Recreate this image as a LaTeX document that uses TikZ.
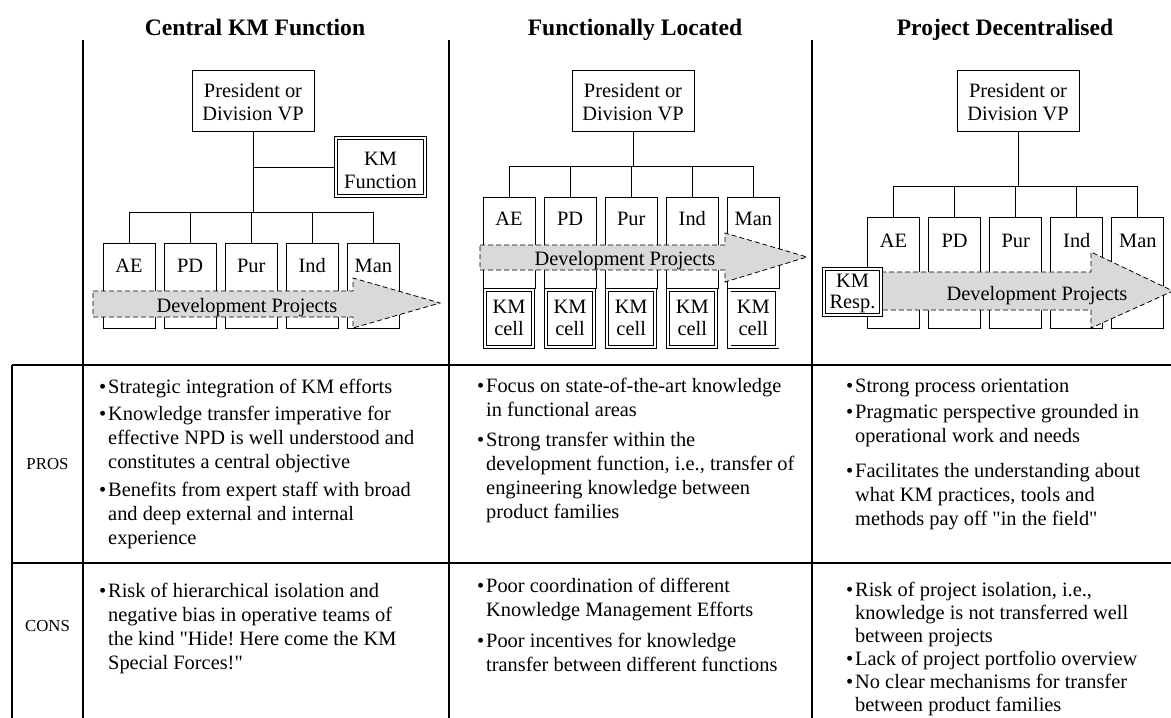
\documentclass[tikz,border=0pt]{standalone}
\usepackage{fontspec}
\setmainfont{Liberation Serif}[Ligatures=TeXOff]
\frenchspacing
% two centred lines whose baseline is the first line's baseline
\newcommand{\tworows}[2]{\parbox[t]{140pt}{\centering #1\\#2}}
% one bullet point with a hanging indent
\newcommand{\bul}[1]{\parbox[t]{360pt}{\hangindent=9pt\hangafter=1\noindent\makebox[9pt][l]{\textbullet}#1}}
\begin{document}
\begin{tikzpicture}[x=1pt,y=-1pt,
  rule/.style={line width=1.2pt},
  link/.style={line width=1pt},
  presbox/.style={draw,line width=1pt,fill=white,minimum width=122pt,minimum height=61pt,inner sep=0pt},
  funcbox/.style={draw,line width=1pt,minimum width=52pt,inner sep=0pt},
  dblbox/.style={draw,line width=0.9pt,double,double distance=2.2pt,fill=white,inner sep=0pt,outer sep=2pt},
  devarrow/.style={draw,line width=0.8pt,dash pattern=on 5pt off 3pt,fill=gray!30},
  txt/.style={inner sep=0pt,anchor=base,font=\fontsize{20.4}{23.6}\selectfont},
  celltxt/.style={inner sep=0pt,anchor=base,font=\fontsize{20.4}{21.8}\selectfont},
  head/.style={inner sep=0pt,anchor=base,font=\fontsize{23.6}{28}\selectfont\bfseries},
  rowlabel/.style={inner sep=0pt,anchor=base,font=\fontsize{16.8}{20}\selectfont},
  item/.style={inner sep=0pt,anchor=base west,font=\fontsize{20.4}{24}\selectfont},
  tightitem/.style={item,font=\fontsize{20.4}{23}\selectfont}
]
\useasboundingbox (0,0) rectangle (1171,718);

% ---------- headings ----------
\node[head] (h1) at (255,35) {Central KM Function};
\node[head] (h2) at (635,35) {Functionally Located};
\node[head] (h3) at (1005,35) {Project Decentralised};

% ---------- table rules ----------
\coordinate (v1t) at (83,40);   \coordinate (v1b) at (83,718);
\coordinate (v2t) at (449,40);  \coordinate (v2b) at (449,718);
\coordinate (v3t) at (812,40);  \coordinate (v3b) at (812,718);
\coordinate (r1l) at (12,365);  \coordinate (r1r) at (1171,365);
\coordinate (r2l) at (12,563);  \coordinate (r2r) at (1171,563);
\coordinate (lb) at (12,718);
\draw[rule] (v1t) -- (v1b);
\draw[rule] (v2t) -- (v2b);
\draw[rule] (v3t) -- (v3b);
\draw[rule] (r1l) -- (r1r);
\draw[rule] (r2l) -- (r2r);
\draw[rule] (r1l) -- (lb);

% ================= Central KM Function =================
\node[presbox] (c1p) at (253,100.5) {};
\node[txt] (c1pt) at (253,97) {\tworows{President or}{Division VP}};
\node[dblbox,minimum width=89pt,minimum height=58pt] (c1km) at (380.5,167) {};
\node[txt] (c1kmt) at (380.5,165) {\tworows{KM}{Function}};
\foreach \n/\x/\t in {ae/129/AE,pd/190.1/PD,pur/251.2/Pur,ind/312.3/Ind,man/373.4/Man}{
  \node[funcbox,minimum height=85pt] (c1\n) at (\x,285.5) {};
  \node[txt] (c1\n t) at (\x,272) {\t};
}
\coordinate (c1bar) at (253,212);
\draw[link] (c1p.south) -- (c1bar);
\draw[link] (c1p.south |- c1km.west) -- (c1km.west);
\draw[link] (c1ae.north) -- (c1ae.north |- c1bar) -- (c1man.north |- c1bar) -- (c1man.north);
\foreach \n in {pd,pur,ind}{ \draw[link] (c1\n.north) -- (c1\n.north |- c1bar); }
\draw[devarrow] (93,291) -- (353,291) -- (353,278) -- (440,303) -- (353,328) -- (353,317) -- (93,317) -- cycle;
\node[txt] (c1dev) at (247,312) {Development Projects};

% ================= Functionally Located =================
\node[presbox] (c2p) at (633,100.5) {};
\node[txt] (c2pt) at (633,97) {\tworows{President or}{Division VP}};
\foreach \n/\x/\t in {ae/509/AE,pd/570.1/PD,pur/631.2/Pur,ind/692.3/Ind,man/753.4/Man}{
  \node[funcbox,minimum height=91pt] (c2\n) at (\x,242.5) {};
  \node[txt] (c2\n t) at (\x,225) {\t};
}
\coordinate (c2bar) at (633,166);
\draw[link] (c2p.south) -- (c2bar);
\draw[link] (c2ae.north) -- (c2ae.north |- c2bar) -- (c2man.north |- c2bar) -- (c2man.north);
\foreach \n in {pd,pur,ind}{ \draw[link] (c2\n.north) -- (c2\n.north |- c2bar); }
\draw[devarrow] (480,245) -- (725,245) -- (725,233) -- (807,257) -- (725,282) -- (725,270) -- (480,270) -- cycle;
\node[txt] (c2dev) at (625,265) {Development Projects};
\foreach \n/\x in {ae/509,pd/570.1,pur/631.2,ind/692.3,man/753.4}{
  \node[dblbox,minimum width=48pt,minimum height=57pt] (c2\n k) at (\x,318.5) {};
  \node[celltxt] (c2\n kt) at (\x,313.5) {\tworows{KM}{cell}};
}

% ================= Project Decentralised =================
\node[presbox] (c3p) at (1018,100.5) {};
\node[txt] (c3pt) at (1018,97) {\tworows{President or}{Division VP}};
\foreach \n/\x/\t in {ae/893.5/AE,pd/954.6/PD,pur/1015.7/Pur,ind/1076.8/Ind,man/1137.9/Man}{
  \node[funcbox,minimum height=111pt] (c3\n) at (\x,272.5) {};
  \node[txt] (c3\n t) at (\x,247) {\t};
}
\coordinate (c3bar) at (1018,186);
\draw[link] (c3p.south) -- (c3bar);
\draw[link] (c3ae.north) -- (c3ae.north |- c3bar) -- (c3man.north |- c3bar) -- (c3man.north);
\foreach \n in {pd,pur,ind}{ \draw[link] (c3\n.north) -- (c3\n.north |- c3bar); }
\draw[devarrow] (865,272) -- (1091,272) -- (1091,252) -- (1173,291) -- (1091,328) -- (1091,310) -- (865,310) -- cycle;
\node[txt] (c3dev) at (1037,300) {Development Projects};
\node[dblbox,minimum width=57pt,minimum height=46pt] (c3kr) at (852.5,292) {};
\node[celltxt] (c3krt) at (852.5,287) {\tworows{KM}{Resp.}};

% ================= PROS / CONS =================
\node[rowlabel] (pros) at (47.5,469) {PROS};
\node[rowlabel] (cons) at (47.5,631) {CONS};

\node[item] (p11) at (99,393) {\bul{Strategic integration of KM efforts}};
\node[item] (p12) at (99,420) {\bul{Knowledge transfer imperative for\\effective NPD is well understood and\\constitutes a central objective}};
\node[item] (p13) at (99,496) {\bul{Benefits from expert staff with broad\\and deep external and internal\\experience}};
\node[item] (k11) at (99,597) {\bul{Risk of hierarchical isolation and\\negative bias in operative teams of\\the kind "Hide! Here come the KM\\Special Forces!"}};

\node[item] (p21) at (477,392) {\bul{Focus on state-of-the-art knowledge\\in functional areas}};
\node[item] (p22) at (477,446) {\bul{Strong transfer within the\\development function, i.e., transfer of\\engineering knowledge between\\product families}};
\node[item] (k21) at (477,592) {\bul{Poor coordination of different\\Knowledge Management Efforts}};
\node[item] (k22) at (477,647) {\bul{Poor incentives for knowledge\\transfer between different functions}};

\node[item] (p31) at (846,392) {\bul{Strong process orientation}};
\node[item] (p32) at (846,418) {\bul{Pragmatic perspective grounded in\\operational work and needs}};
\node[item] (p33) at (846,477) {\bul{Facilitates the understanding about\\what KM practices, tools and\\methods pay off "in the field"}};
\node[tightitem] (k31) at (846,596) {\bul{Risk of project isolation, i.e.,\\knowledge is not transferred well\\between projects}};
\node[tightitem] (k32) at (846,665) {\bul{Lack of project portfolio overview}};
\node[tightitem] (k33) at (846,688) {\bul{No clear mechanisms for transfer\\between product families}};
\end{tikzpicture}
\end{document}
